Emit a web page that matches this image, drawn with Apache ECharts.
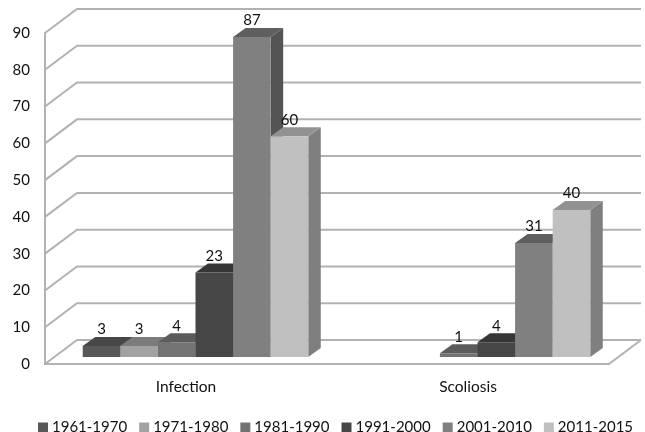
<!DOCTYPE html>
<html>
<head>
<meta charset="utf-8">
<style>
  html, body { margin: 0; padding: 0; background: #fff; }
  #chart { width: 645px; height: 432px; }
</style>
<script src="https://cdn.jsdelivr.net/npm/echarts@6/dist/echarts.min.js"></script>
</head>
<body>
<div id="chart"></div>
<script>
// data
var categories = ["Infection", "Scoliosis"];
var yTicks = [0, 10, 20, 30, 40, 50, 60, 70, 80, 90];
var periods = ["1961-1970", "1971-1980", "1981-1990", "1991-2000", "2001-2010", "2011-2015"];
var values1961 = [3, null];
var values1971 = [3, null];
var values1981 = [4, 1];
var values1991 = [23, 4];
var values2001 = [87, 31];
var values2011 = [60, 40];
var allValues = [values1961, values1971, values1981, values1991, values2001, values2011];

// bar shades: front, top, side
var frontColors = ["#585858", "#a2a2a2", "#737373", "#464646", "#808080", "#c0c0c0"];
var topColors = ["#474747", "#7c7c7c", "#5c5c5c", "#363636", "#5f5f5f", "#929292"];
var sideColors = ["#3e3e3e", "#6e6e6e", "#505050", "#2e2e2e", "#545454", "#7f7f7f"];

var fontName = "Lato";
var wallColor = "#b2b2b2";
// depth of the back wall and of the bars, in pixels
var wallDx = 32, wallDy = -24;
var barShiftX = 9.5, barShiftY = -7;
var barDx = 12.5, barDy = -9;
var slotShare = 0.1333;

var chart = echarts.init(document.getElementById("chart"));

// grid lines running along the side wall and the back wall
function renderWall(params, api) {
  var p = api.coord([0, api.value(1)]);
  var band = api.size([1, 0])[0];
  var left = p[0] - band / 2;
  var right = left + band * 2;
  var children = [{
    type: "polyline",
    shape: { points: [[left, p[1]], [left + wallDx, p[1] + wallDy], [right + wallDx, p[1] + wallDy]] },
    style: { stroke: wallColor, lineWidth: 2, fill: null }
  }];
  // right edge of the floor
  if (api.value(1) === 0) {
    children.push({
      type: "line",
      shape: { x1: right, y1: p[1], x2: right + wallDx, y2: p[1] + wallDy },
      style: { stroke: wallColor, lineWidth: 2 }
    });
  }
  return { type: "group", children: children };
}

// one 3d bar: front, top and side faces plus its number
function renderBar(idx) {
  return function (params, api) {
    var v = api.value(1);
    if (isNaN(v)) return null;
    var top = api.coord([api.value(0), v]);
    var base = api.coord([api.value(0), 0]);
    var slot = api.size([1, 0])[0] * slotShare;
    var x0 = top[0] + barShiftX + (idx - 3) * slot;
    var x1 = x0 + slot;
    var yT = top[1] + barShiftY;
    var yB = base[1] + barShiftY;
    return {
      type: "group",
      children: [
        { type: "polygon", shape: { points: [[x1, yB], [x1 + barDx, yB + barDy], [x1 + barDx, yT + barDy], [x1, yT]] }, style: { fill: sideColors[idx] } },
        { type: "polygon", shape: { points: [[x0, yT], [x0 + barDx, yT + barDy], [x1 + barDx, yT + barDy], [x1, yT]] }, style: { fill: topColors[idx] } },
        { type: "rect", shape: { x: x0, y: yT, width: slot, height: yB - yT }, style: { fill: frontColors[idx] } },
        {
          type: "text",
          style: {
            text: String(v),
            x: (x0 + x1) / 2,
            y: yT + barDy - 7.5,
            align: "center",
            verticalAlign: "middle",
            fill: "#111",
            font: "15px " + fontName
          }
        }
      ]
    };
  };
}

var series = [{
  name: "wall",
  type: "custom",
  renderItem: renderWall,
  encode: { x: 0, y: 1 },
  data: yTicks.map(function (t) { return [0, t]; }),
  silent: true,
  z: 1
}];

periods.forEach(function (name, idx) {
  series.push({
    name: name,
    type: "custom",
    renderItem: renderBar(idx),
    encode: { x: 0, y: 1 },
    itemStyle: { color: frontColors[idx] },
    data: allValues[idx].map(function (v, i) { return [i, v]; }),
    z: 2 + idx
  });
});

chart.setOption({
  animation: false,
  backgroundColor: "#fff",
  textStyle: { fontFamily: fontName },
  legend: {
    data: periods,
    left: 33,
    top: 415,
    itemWidth: 10,
    itemHeight: 10,
    itemGap: 12,
    icon: "rect",
    textStyle: { color: "#111", fontSize: 15, fontFamily: fontName, padding: [0, 0, 0, -1] }
  },
  grid: { left: 45, right: 36, top: 33, bottom: 68 },
  xAxis: {
    type: "category",
    data: categories,
    axisLine: { lineStyle: { color: wallColor, width: 2 } },
    axisTick: { show: false },
    axisLabel: { color: "#111", fontSize: 15.5, fontFamily: fontName, margin: 15 },
    splitLine: { show: false }
  },
  yAxis: {
    type: "value",
    min: 0,
    max: 90,
    interval: 10,
    axisLine: { show: true, lineStyle: { color: wallColor, width: 2 } },
    axisTick: { show: false },
    axisLabel: { color: "#111", fontSize: 15, fontFamily: fontName, margin: 15, padding: [3, 0, 0, 0] },
    splitLine: { show: false }
  },
  series: series
});
</script>
</body>
</html>
